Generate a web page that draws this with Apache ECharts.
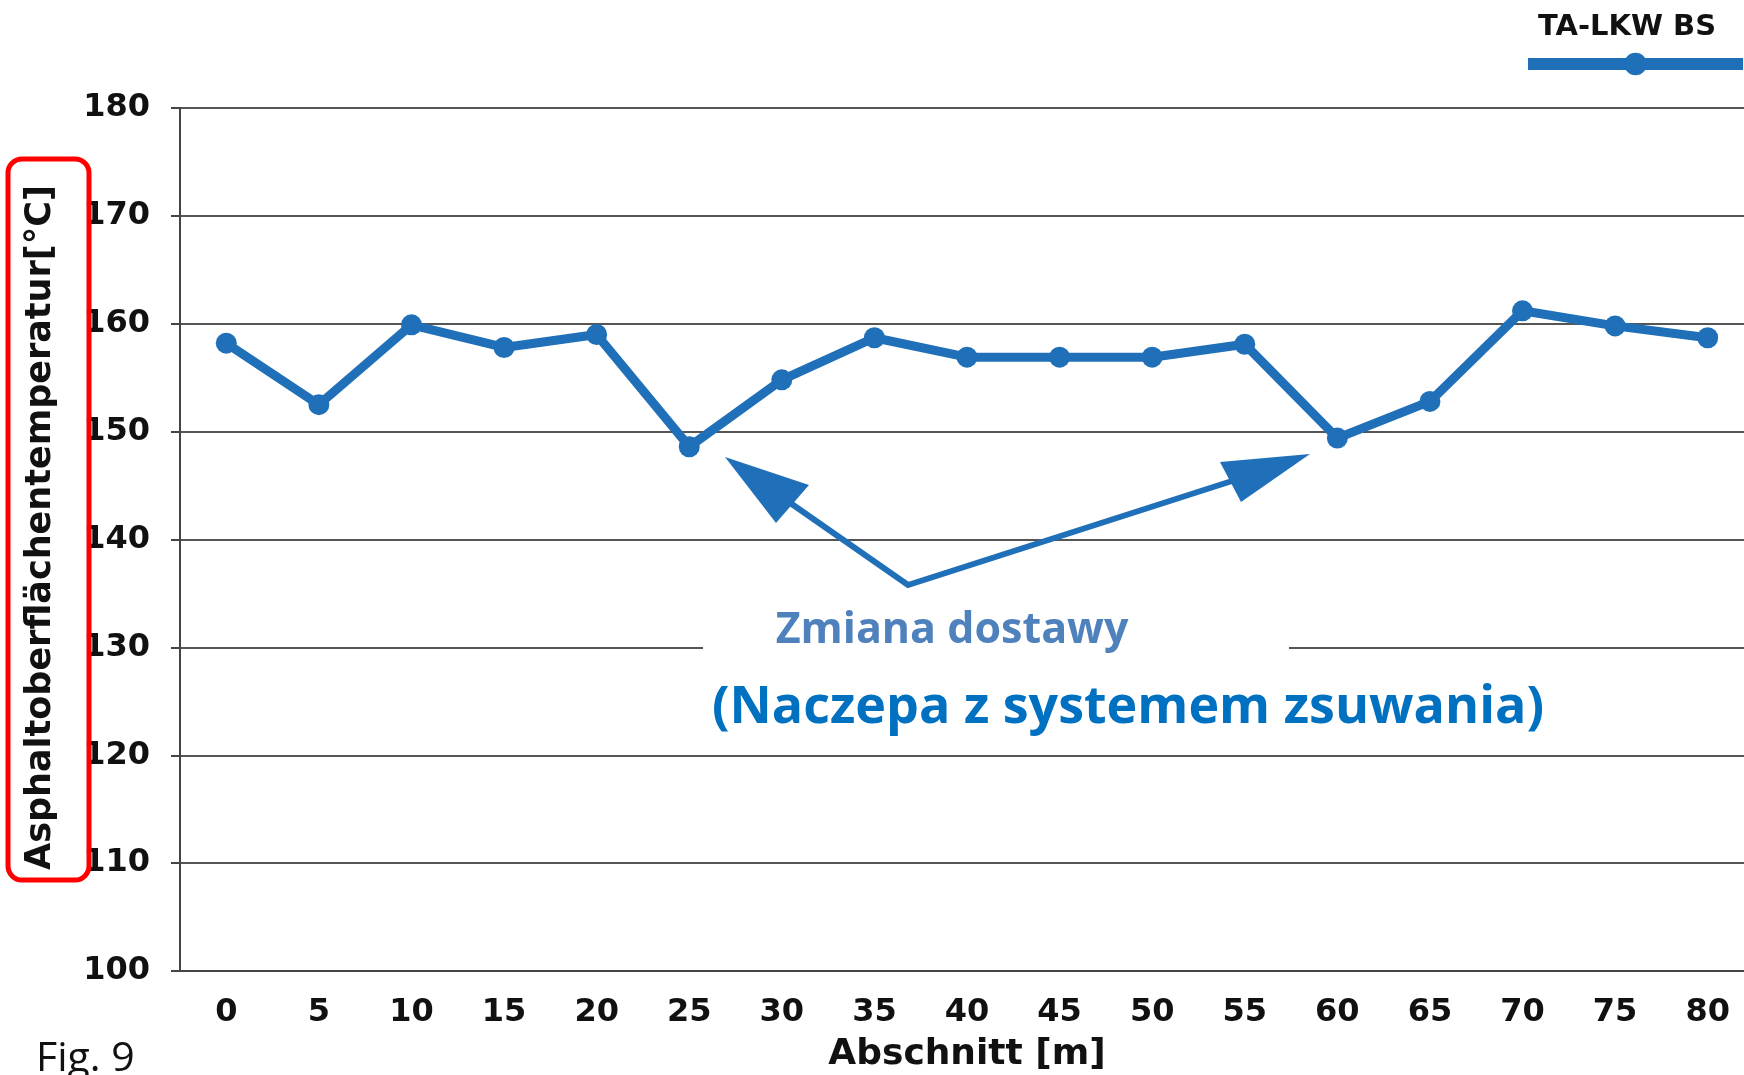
<!DOCTYPE html>
<html>
<head>
<meta charset="utf-8">
<title>Asphaltoberflächentemperatur</title>
<script src="https://cdn.jsdelivr.net/npm/echarts@6/dist/echarts.min.js"></script>
<style>
    html, body { margin: 0; padding: 0; background: #fff; }
    #main { width: 1744px; height: 1075px; }
</style>
</head>
<body>
<div id="main"></div>
<script>
// 横轴分段 (m)
var sections = ['0', '5', '10', '15', '20', '25', '30', '35', '40', '45', '50', '55', '60', '65', '70', '75', '80'];
// 沥青表面温度 TA-LKW BS
var temps = [158.2, 152.5, 159.9, 157.8, 159.0, 148.6, 154.8, 158.7, 156.9, 156.9, 156.9, 158.1, 149.4, 152.8, 161.2, 159.8, 158.7];
// 纵轴刻度
var yMin = 100, yMax = 180, yStep = 10;

var blue = '#1f70b8';
var axisFont = 'DejaVu Sans';

var myChart = echarts.init(document.getElementById('main'));

option = {
    backgroundColor: '#ffffff',
    animation: false,
    title: {
        text: 'TA-LKW BS',
        left: 1538,
        top: 13,
        padding: 0,
        textStyle: { fontFamily: axisFont, fontWeight: 'bold', fontSize: 29, color: '#111' }
    },
    legend: {
        left: 1522,
        top: 50,
        padding: 0,
        itemWidth: 215,
        itemHeight: 28,
        data: ['TA-LKW BS'],
        formatter: function () { return ''; },
        lineStyle: { width: 12 }
    },
    // 网格固定, 不随标签收缩
    grid: { left: 180, right: -10, top: 108, bottom: 104, outerBoundsMode: 'none', containLabel: false },
    xAxis: {
        type: 'category',
        data: sections,
        name: 'Abschnitt [m]',
        nameLocation: 'middle',
        nameGap: 66,
        nameTextStyle: { fontFamily: axisFont, fontWeight: 'bold', fontSize: 36, color: '#111' },
        axisLine: { lineStyle: { color: '#444', width: 2 } },
        axisTick: { length: 9, lineStyle: { color: '#444', width: 2 } },
        axisLabel: { margin: 26, fontFamily: axisFont, fontWeight: 'bold', fontSize: 32, color: '#111' }
    },
    yAxis: {
        type: 'value',
        min: yMin,
        max: yMax,
        interval: yStep,
        name: 'Asphaltoberflächentemperatur[°C]',
        nameLocation: 'middle',
        nameGap: 122,
        nameTextStyle: { fontFamily: axisFont, fontWeight: 'bold', fontSize: 35, color: '#111', padding: [0, 0, 0, 24] },
        axisLine: { show: true, lineStyle: { color: '#444', width: 2 } },
        axisTick: { show: true, length: 9, lineStyle: { color: '#444', width: 2 } },
        axisLabel: { margin: 30, fontFamily: axisFont, fontWeight: 'bold', fontSize: 32, color: '#111' },
        splitLine: { lineStyle: { color: '#555', width: 2 } }
    },
    series: [
        {
            name: 'TA-LKW BS',
            type: 'line',
            data: temps,
            symbol: 'circle',
            symbolSize: 21,
            lineStyle: { color: blue, width: 9 },
            itemStyle: { color: blue }
        }
    ],
    // 注释: 红框, 白底说明文字, 箭头
    graphic: [
        {
            type: 'rect', z: 100,
            shape: { x: 8, y: 159, width: 81, height: 721, r: 14 },
            style: { fill: 'none', stroke: '#ff0000', lineWidth: 5 }
        },
        {
            type: 'rect', z: 50,
            shape: { x: 703, y: 585, width: 586, height: 84 },
            style: { fill: '#ffffff' }
        },
        {
            type: 'polyline', z: 60,
            shape: { points: [[786, 500], [908, 585], [1232, 481]] },
            style: { stroke: blue, lineWidth: 6, fill: 'none' }
        },
        {
            type: 'polygon', z: 60,
            shape: { points: [[725, 457], [776, 523], [809, 485]] },
            style: { fill: blue }
        },
        {
            type: 'polygon', z: 60,
            shape: { points: [[1310, 454], [1220, 462], [1241, 502]] },
            style: { fill: blue }
        },
        {
            type: 'text', z: 60, x: 952, y: 631,
            style: {
                text: 'Zmiana dostawy', fill: '#4f81bd', align: 'center', verticalAlign: 'middle',
                font: 'bold 43px "Open Sans"'
            }
        },
        {
            type: 'text', z: 60, x: 1128, y: 708,
            style: {
                text: '(Naczepa z systemem zsuwania)', fill: '#0070c0', align: 'center', verticalAlign: 'middle',
                font: 'bold 52px "Open Sans"'
            }
        },
        {
            type: 'text', z: 60, x: 36, y: 1059,
            style: {
                text: 'Fig. 9', fill: '#111', align: 'left', verticalAlign: 'middle',
                font: '41px "Open Sans"'
            }
        }
    ]
};

// 使用刚指定的配置项和数据显示图表。
myChart.setOption(option);
</script>
</body>
</html>
